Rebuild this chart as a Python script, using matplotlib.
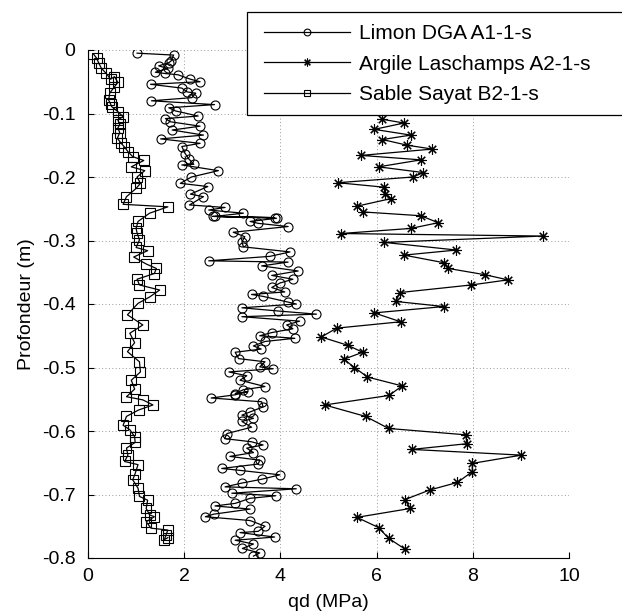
import matplotlib
matplotlib.use("Agg")
import matplotlib.pyplot as plt
from matplotlib.patches import Rectangle

plt.rcParams['font.family'] = ['Liberation Sans', 'DejaVu Sans']

# Limon DGA A1-1-s
limon_qd = [1.02, 1.78, 1.73, 1.68, 1.47, 1.66, 1.40, 1.60, 1.87, 2.13, 2.33, 1.30, 1.95, 2.06, 2.24, 2.16,
            1.32, 2.63, 1.68, 1.82, 2.29, 1.61, 1.71, 2.33, 1.75, 2.40, 1.51, 2.33, 1.95, 2.02, 2.09, 2.20,
            1.95, 2.71, 2.15, 1.92, 2.49, 2.13, 2.40, 2.11, 2.85, 2.51, 3.23, 2.64, 3.88, 2.59, 3.92, 3.37,
            3.54, 4.16, 3.02, 3.26, 3.20, 3.23, 4.20, 3.78, 2.51, 4.16, 3.61, 4.37, 3.82, 4.26, 3.99, 3.82,
            4.09, 3.40, 3.64, 4.16, 4.33, 3.20, 3.95, 4.75, 3.20, 4.40, 4.13, 4.26, 3.82, 3.57, 4.30, 3.68,
            3.44, 3.60, 3.06, 3.13, 3.68, 3.57, 3.85, 2.93, 3.30, 3.16, 3.68, 3.23, 3.06, 3.32, 3.06, 2.56,
            3.61, 3.64, 3.37, 3.20, 3.44, 3.20, 3.40, 2.89, 2.84, 3.40, 3.64, 3.30, 3.44, 2.95, 3.57, 3.54,
            2.78, 3.16, 3.99, 3.61, 3.20, 2.85, 4.33, 2.99, 3.90, 3.37, 3.06, 2.64, 3.37, 2.61, 2.44, 3.37,
            3.68, 3.54, 3.16, 3.88, 3.06, 3.44, 3.21, 3.57, 3.44]
limon_z = [-0.005, -0.008, -0.017, -0.020, -0.025, -0.029, -0.035, -0.037, -0.039, -0.046, -0.050, -0.054,
           -0.060, -0.066, -0.068, -0.075, -0.080, -0.086, -0.091, -0.096, -0.104, -0.108, -0.113, -0.120,
           -0.126, -0.134, -0.140, -0.147, -0.152, -0.163, -0.171, -0.180, -0.181, -0.190, -0.200, -0.210,
           -0.215, -0.227, -0.231, -0.244, -0.248, -0.252, -0.257, -0.262, -0.264, -0.262, -0.265, -0.270,
           -0.273, -0.278, -0.287, -0.294, -0.302, -0.310, -0.318, -0.325, -0.332, -0.334, -0.340, -0.348,
           -0.355, -0.361, -0.367, -0.374, -0.381, -0.385, -0.388, -0.397, -0.400, -0.406, -0.411, -0.416,
           -0.420, -0.427, -0.433, -0.439, -0.445, -0.450, -0.454, -0.459, -0.466, -0.471, -0.476, -0.486,
           -0.491, -0.499, -0.502, -0.507, -0.513, -0.520, -0.530, -0.535, -0.541, -0.538, -0.543, -0.548,
           -0.554, -0.562, -0.570, -0.575, -0.580, -0.585, -0.594, -0.604, -0.612, -0.617, -0.622, -0.627,
           -0.634, -0.640, -0.646, -0.652, -0.659, -0.662, -0.669, -0.676, -0.682, -0.688, -0.691, -0.698,
           -0.702, -0.706, -0.714, -0.718, -0.723, -0.731, -0.735, -0.741, -0.750, -0.758, -0.760, -0.767,
           -0.772, -0.778, -0.785, -0.792, -0.797]

# Argile Laschamps A2-1-s
argile_qd = [6.11, 6.57, 5.95, 6.71, 6.12, 6.64, 7.16, 5.68, 6.92, 6.04, 6.97, 6.76, 5.19, 6.15, 6.18, 6.30,
             5.59, 5.71, 6.92, 7.28, 6.71, 5.26, 9.45, 6.16, 7.66, 6.57, 7.40, 7.49, 8.26, 8.73, 7.97, 6.48,
             6.40, 7.40, 5.95, 6.50, 5.17, 4.85, 5.40, 5.71, 5.32, 5.54, 5.81, 6.53, 6.26, 4.92, 5.77, 6.25,
             7.85, 7.88, 6.73, 9.01, 7.99, 7.99, 7.68, 7.10, 6.59, 6.70, 5.59, 6.04, 6.25, 6.59]
argile_z = [-0.109, -0.115, -0.125, -0.134, -0.141, -0.150, -0.156, -0.166, -0.173, -0.184, -0.193, -0.200,
            -0.209, -0.216, -0.226, -0.234, -0.246, -0.255, -0.261, -0.272, -0.281, -0.289, -0.293, -0.303,
            -0.315, -0.323, -0.335, -0.344, -0.354, -0.362, -0.370, -0.382, -0.396, -0.404, -0.414, -0.428,
            -0.438, -0.452, -0.465, -0.476, -0.487, -0.500, -0.515, -0.529, -0.544, -0.559, -0.577, -0.596,
            -0.606, -0.620, -0.629, -0.638, -0.651, -0.664, -0.681, -0.693, -0.708, -0.722, -0.736, -0.752,
            -0.769, -0.786]

# Sable Sayat B2-1-s
sable_qd = [0.11, 0.18, 0.22, 0.28, 0.38, 0.47, 0.55, 0.62, 0.55, 0.45, 0.43, 0.47, 0.49, 0.62, 0.73, 0.62,
            0.66, 0.62, 0.66, 0.61, 0.69, 0.75, 0.83, 0.93, 1.16, 0.90, 1.18, 1.02, 1.09, 1.00, 0.80, 0.73,
            1.66, 1.28, 1.04, 1.00, 1.02, 1.07, 1.00, 1.24, 0.95, 1.21, 1.42, 1.38, 1.02, 1.07, 1.49, 1.28,
            1.04, 0.82, 1.14, 0.87, 0.97, 0.82, 1.07, 1.09, 0.90, 0.97, 0.80, 1.14, 1.35, 1.05, 0.80, 0.73,
            0.87, 0.97, 0.98, 0.80, 0.83, 0.76, 1.04, 0.98, 0.93, 1.04, 1.07, 1.24, 1.21, 1.28, 1.38, 1.21,
            1.31, 1.66, 1.62, 1.59, 1.66]
sable_z = [-0.006, -0.013, -0.020, -0.029, -0.037, -0.046, -0.042, -0.051, -0.058, -0.068, -0.079, -0.085,
           -0.089, -0.097, -0.105, -0.110, -0.117, -0.123, -0.130, -0.139, -0.147, -0.152, -0.160, -0.168,
           -0.174, -0.184, -0.190, -0.200, -0.210, -0.218, -0.231, -0.243, -0.247, -0.257, -0.270, -0.281,
           -0.288, -0.299, -0.311, -0.316, -0.326, -0.337, -0.344, -0.352, -0.361, -0.370, -0.378, -0.389,
           -0.399, -0.417, -0.433, -0.446, -0.461, -0.475, -0.491, -0.507, -0.520, -0.534, -0.546, -0.551,
           -0.559, -0.567, -0.577, -0.591, -0.598, -0.609, -0.618, -0.627, -0.638, -0.648, -0.653, -0.667,
           -0.677, -0.690, -0.703, -0.709, -0.722, -0.732, -0.735, -0.743, -0.753, -0.756, -0.764, -0.771,
           -0.768]

series_labels = ['Limon DGA A1-1-s', 'Argile Laschamps A2-1-s', 'Sable Sayat B2-1-s']
x_ticks = [0, 2, 4, 6, 8, 10]
y_ticks = [0, -0.1, -0.2, -0.3, -0.4, -0.5, -0.6, -0.7, -0.8]
y_tick_labels = ['0', '-0.1', '-0.2', '-0.3', '-0.4', '-0.5', '-0.6', '-0.7', '-0.8']

W, H = 622, 614
fig = plt.figure(figsize=(W / 100, H / 100), dpi=100)
ax = fig.add_axes([88 / W, 1 - 558 / H, (569 - 88) / W, (558 - 50) / H])

asterisk = (8, 2, 0)
l1, = ax.plot(limon_qd, limon_z, color='black', lw=0.9, marker='o', ms=6.5, mfc='none', mec='black', mew=0.8)
l2, = ax.plot(argile_qd, argile_z, color='black', lw=0.9, marker=asterisk, ms=7.5, mfc='none', mec='black', mew=0.8)
l3, = ax.plot(sable_qd, sable_z, color='black', lw=0.9, marker='s', ms=6.5, mfc='none', mec='black', mew=0.8)

ax.set_xlim(0, 10)
ax.set_ylim(-0.8, 0)
ax.set_xticks(x_ticks)
ax.set_yticks(y_ticks)
ax.set_yticklabels(y_tick_labels)
ax.grid(True, linestyle=(0, (1, 2.5)), color='#9a9a9a', linewidth=0.7)
ax.tick_params(direction='in', labelsize=14, length=4, pad=7)
ax.tick_params(axis='y', pad=9)
for s in ['top', 'right']:
    ax.spines[s].set_visible(False)
ax.set_xlabel('qd (MPa)', fontsize=14, labelpad=7)
ax.set_ylabel('Profondeur (m)', fontsize=14, labelpad=5)

# legend frame (runs off the right edge of the figure like in the reference)
frame = Rectangle((247 / W, 1 - 115 / H), (660 - 247) / W, (115 - 12) / H, transform=fig.transFigure,
                  facecolor='white', edgecolor='black', linewidth=0.9, zorder=5)
fig.add_artist(frame)
leg = fig.legend([l1, l2, l3], series_labels, loc='center left', bbox_to_anchor=(254 / W, 1 - 64 / H),
                 bbox_transform=fig.transFigure, fontsize=15, frameon=False, borderpad=0,
                 handlelength=4.1, handletextpad=0.43, labelspacing=0.55, markerscale=0.75)
leg.set_zorder(6)

fig.savefig('out.png', dpi=100)
